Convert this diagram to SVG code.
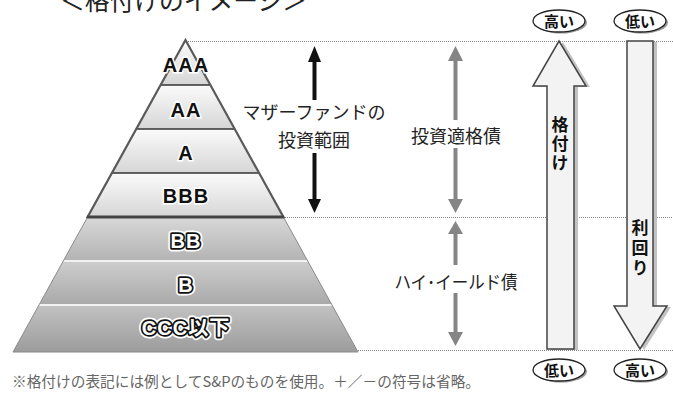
<svg xmlns="http://www.w3.org/2000/svg" width="673" height="394" viewBox="0 0 673 394">
<defs>
<linearGradient id="gUp" x1="0" y1="0" x2="0" y2="1">
<stop offset="0" stop-color="#fbfbfb"/><stop offset="1" stop-color="#d6d6d6"/>
</linearGradient>
<linearGradient id="gLo1" x1="0" y1="0" x2="0" y2="1">
<stop offset="0" stop-color="#d8d8d8"/><stop offset="1" stop-color="#b3b3b3"/>
</linearGradient>
<linearGradient id="gLo2" x1="0" y1="0" x2="0" y2="1">
<stop offset="0" stop-color="#cdcdcd"/><stop offset="1" stop-color="#a9a9a9"/>
</linearGradient>
<linearGradient id="gLo3" x1="0" y1="0" x2="0" y2="1">
<stop offset="0" stop-color="#c2c2c2"/><stop offset="1" stop-color="#9c9c9c"/>
</linearGradient>
<style>
.jp{font-family:"Noto Sans CJK JP","Noto Sans",sans-serif;fill:#222}
.lab{font-size:18px;text-anchor:middle}
.up{font-family:"Liberation Sans","Noto Sans CJK JP",sans-serif;font-weight:bold;font-size:20px;fill:#111;stroke:#fff;stroke-width:3;paint-order:stroke;text-anchor:middle;letter-spacing:1px}
.halo{font-family:"Liberation Sans","Noto Sans CJK JP",sans-serif;font-weight:bold;font-size:20px;fill:none;stroke:#fff;stroke-width:7;stroke-linejoin:round;text-anchor:middle;letter-spacing:1px}
.lo{font-family:"Liberation Sans","Noto Sans CJK JP",sans-serif;font-weight:bold;font-size:20px;fill:#fff;stroke:#111;stroke-width:3.5;stroke-linejoin:round;paint-order:stroke;text-anchor:middle;letter-spacing:1px}
.dot{stroke:#888;stroke-width:1;stroke-dasharray:1 1;fill:none}
.band{stroke:#333;stroke-width:1.5}
.big{fill:#f3f3f3;stroke:#444;stroke-width:1.5;stroke-linejoin:miter}
.shadow{fill:#c2c2c2}
.oval{fill:#fff;stroke:#222;stroke-width:1.3}
.ovs{fill:#9a9a9a}
.ovt{font-family:"Noto Sans CJK JP",sans-serif;font-weight:bold;font-size:15px;fill:#111;text-anchor:middle}
.vt{font-family:"Noto Sans CJK JP",sans-serif;font-weight:bold;font-size:17px;fill:#111;writing-mode:vertical-rl;text-anchor:start}
</style>
</defs>
<rect width="673" height="394" fill="#fff"/>

<text id="title" class="jp" x="60" y="10" font-size="25" textLength="247" lengthAdjust="spacingAndGlyphs" fill="#333">＜格付けのイメージ＞</text>

<g id="guides">
<line class="dot" x1="188" y1="41.5" x2="673" y2="41.5"/>
<line class="dot" x1="285" y1="217.5" x2="673" y2="217.5"/>
<line class="dot" x1="358" y1="350.5" x2="673" y2="350.5"/>
</g>

<g id="pyramid">
<g id="lower">
<polygon points="87.6,217 283.4,217 307.7,261 63.3,261" fill="url(#gLo1)"/>
<polygon points="63.3,261 307.7,261 332,305 39,305" fill="url(#gLo2)"/>
<polygon points="39,305 332,305 358,352 13,352" fill="url(#gLo3)"/>
<line x1="63" y1="261" x2="308" y2="261" stroke="#f2f2f2" stroke-width="2"/>
<line x1="39" y1="305" x2="332" y2="305" stroke="#f2f2f2" stroke-width="2"/>
<polyline points="87.6,217 13,352 358,352 283.4,217" fill="none" stroke="#8a8a8a" stroke-width="1"/>
</g>
<g id="upper">
<polygon points="185.5,40 210.4,85 160.6,85" fill="url(#gUp)"/>
<polygon points="160.6,85 210.4,85 234.7,129 136.3,129" fill="url(#gUp)"/>
<polygon points="136.3,129 234.7,129 259,173 112,173" fill="url(#gUp)"/>
<polygon points="112,173 259,173 283.4,217 87.6,217" fill="url(#gUp)"/>
<line class="band" x1="160.6" y1="85" x2="210.4" y2="85"/>
<line class="band" x1="136.3" y1="129" x2="234.7" y2="129"/>
<line class="band" x1="112" y1="173" x2="259" y2="173"/>
<polygon points="185.5,40 283.4,217 87.6,217" fill="none" stroke="#5a5a5a" stroke-width="2.2" stroke-linejoin="miter"/>
<line x1="87" y1="217" x2="284" y2="217" stroke="#444" stroke-width="3"/>
</g>
</g>

<g id="node-AAA"><text class="up" x="186" y="72">AAA</text></g>
<g id="node-AA"><text class="up" x="186" y="117">AA</text></g>
<g id="node-A"><text class="up" x="186" y="160">A</text></g>
<g id="node-BBB"><text class="up" x="186" y="203">BBB</text></g>
<g id="node-BB"><text class="halo" x="186" y="248">BB</text><text class="lo" x="186" y="248">BB</text></g>
<g id="node-B"><text class="halo" x="186" y="292">B</text><text class="lo" x="186" y="292">B</text></g>
<g id="node-CCC"><text class="halo" x="186" y="335">CCC以下</text><text class="lo" x="186" y="335">CCC以下</text></g>

<g id="connectors">
<g id="mother-range">
<line x1="314.5" y1="60" x2="314.5" y2="100" stroke="#111" stroke-width="4"/>
<line x1="314.5" y1="153" x2="314.5" y2="202" stroke="#111" stroke-width="4"/>
<polygon points="314.5,46 321,62 308,62" fill="#111"/>
<polygon points="314.5,213 321,199 308,199" fill="#111"/>
</g>
<g id="ig-range">
<line x1="455.5" y1="58" x2="455.5" y2="120" stroke="#858585" stroke-width="4"/>
<line x1="455.5" y1="148" x2="455.5" y2="202" stroke="#858585" stroke-width="4"/>
<polygon points="455.5,46 463,61 448,61" fill="#858585"/>
<polygon points="455.5,213 463,199 448,199" fill="#858585"/>
</g>
<g id="hy-range">
<line x1="455.5" y1="232" x2="455.5" y2="265" stroke="#858585" stroke-width="4"/>
<line x1="455.5" y1="293" x2="455.5" y2="334" stroke="#858585" stroke-width="4"/>
<polygon points="455.5,221 463,234 448,234" fill="#858585"/>
<polygon points="455.5,346 463,332 448,332" fill="#858585"/>
</g>
</g>

<g id="label-mother">
<text class="jp lab" x="314" y="119">マザーファンドの</text>
<text class="jp lab" x="314" y="146.5">投資範囲</text>
</g>
<g id="label-ig"><text class="jp lab" x="456" y="142.5">投資適格債</text></g>
<g id="label-hy"><text class="jp lab" x="456" y="288.5" textLength="123" lengthAdjust="spacingAndGlyphs">ハイ･イールド債</text></g>

<g id="node-rating-arrow">
<path class="shadow" transform="translate(4,1)" d="M559,41 L586,86 L574,86 L574,349 L547,349 L547,86 L533,86 Z"/>
<path class="big" d="M559,41 L586,86 L574,86 L574,349 L547,349 L547,86 L533,86 Z"/>
<text class="vt" x="560" y="116" letter-spacing="2">格付け</text>
</g>
<g id="node-yield-arrow">
<path class="shadow" transform="translate(4,1)" d="M627,41 L653,41 L653,306 L667,306 L640,349 L614,306 L627,306 Z"/>
<path class="big" d="M627,41 L653,41 L653,306 L667,306 L640,349 L614,306 L627,306 Z"/>
<text class="vt" x="640" y="219" letter-spacing="3">利回り</text>
</g>

<g id="node-high-top">
<ellipse class="ovs" cx="561" cy="22.5" rx="26" ry="11"/>
<ellipse class="oval" cx="559" cy="21" rx="26" ry="11"/>
<text class="ovt" x="559" y="26.5">高い</text>
</g>
<g id="node-low-top">
<ellipse class="ovs" cx="642" cy="22.5" rx="26" ry="11"/>
<ellipse class="oval" cx="640" cy="21" rx="26" ry="11"/>
<text class="ovt" x="640" y="26.5">低い</text>
</g>
<g id="node-low-bottom">
<ellipse class="ovs" cx="561" cy="371.5" rx="26" ry="11"/>
<ellipse class="oval" cx="559" cy="370" rx="26" ry="11"/>
<text class="ovt" x="559" y="375.5">低い</text>
</g>
<g id="node-high-bottom">
<ellipse class="ovs" cx="642" cy="371.5" rx="26" ry="11"/>
<ellipse class="oval" cx="640" cy="370" rx="26" ry="11"/>
<text class="ovt" x="640" y="375.5">高い</text>
</g>

<text id="footnote" class="jp" x="12" y="387" font-size="14.5" fill="#666" style="fill:#666" textLength="468" lengthAdjust="spacingAndGlyphs">※格付けの表記には例としてS&amp;Pのものを使用。＋／－の符号は省略。</text>
</svg>
